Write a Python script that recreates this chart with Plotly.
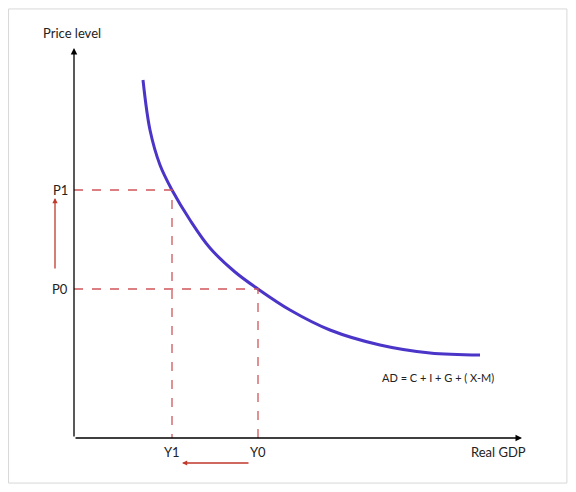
import plotly.graph_objects as go

# curve of aggregate demand (origin of the axes at 0,0)
ad_x = [69, 76, 86, 98, 116, 136, 161, 184, 216, 256, 306, 356, 406]
ad_y = [358, 308, 273, 248, 218, 190, 166, 149, 128, 108, 93, 85, 83]
price_levels = [248, 149]   # P1, P0
outputs = [98, 184]         # Y1, Y0
price_labels = ["P1", "P0"]
output_labels = ["Y1", "Y0"]

red = "#c0392b"
fig = go.Figure()
fig.add_trace(go.Scatter(x=ad_x, y=ad_y, mode="lines", line=dict(color="#4a35c8", width=3, shape="spline"),
                         hoverinfo="skip"))
for p, q in zip(price_levels, outputs):
    fig.add_trace(go.Scatter(x=[0, q, q], y=[p, p, 0], mode="lines",
                             line=dict(color="#d0565a", width=1.3, dash="dash"), hoverinfo="skip"))

ann = []
for p, t in zip(price_levels, price_labels):
    ann.append(dict(x=-4, y=p, text=t, xanchor="right", showarrow=False))
for q, t in zip(outputs, output_labels):
    ann.append(dict(x=q, y=-14, text=t, showarrow=False))
ann += [
    dict(x=-33, y=405, text="Price level", xanchor="left", showarrow=False),
    dict(x=424, y=-14, text="Real GDP", showarrow=False),
    dict(x=364, y=61, text="AD = C + I + G + ( X-M)", showarrow=False, font=dict(size=11)),
    # axes arrows
    dict(x=0, y=390, ax=0, ay=0, xref="x", yref="y", axref="x", ayref="y", text="", showarrow=True,
         arrowhead=2, arrowsize=1, arrowwidth=1.3, arrowcolor="black"),
    dict(x=448, y=0, ax=0, ay=0, xref="x", yref="y", axref="x", ayref="y", text="", showarrow=True,
         arrowhead=2, arrowsize=1, arrowwidth=1.3, arrowcolor="black"),
    # shift arrows
    dict(x=-19, y=240, ax=-19, ay=168, xref="x", yref="y", axref="x", ayref="y", text="", showarrow=True,
         arrowhead=2, arrowsize=0.8, arrowwidth=1.3, arrowcolor=red),
    dict(x=108, y=-25, ax=176, ay=-25, xref="x", yref="y", axref="x", ayref="y", text="", showarrow=True,
         arrowhead=2, arrowsize=0.8, arrowwidth=1.3, arrowcolor=red),
]

fig.update_layout(
    width=560, height=476, margin=dict(l=0, r=0, t=0, b=0),
    plot_bgcolor="white", paper_bgcolor="white", showlegend=False,
    font=dict(family="Lato, Open Sans, sans-serif", size=13, color="#222"),
    xaxis=dict(range=[-66, 494], visible=False, fixedrange=True),
    yaxis=dict(range=[-46, 430], visible=False, fixedrange=True),
    annotations=ann,
    shapes=[dict(type="rect", xref="paper", yref="paper", x0=0.001, x1=0.998, y0=0.002, y1=0.998,
                 line=dict(color="#d8d8d8", width=1))],
)
fig.write_html("out.html")
